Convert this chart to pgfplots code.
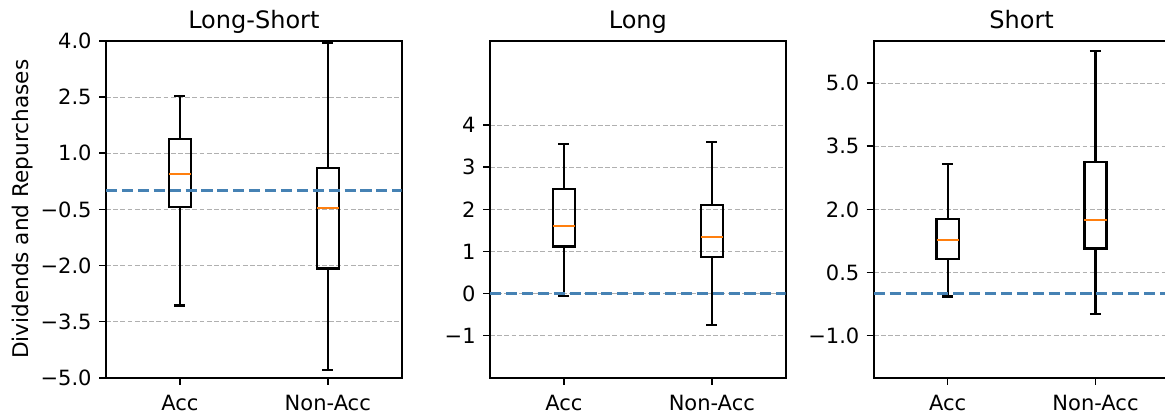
\documentclass[border=0pt]{standalone}
\usepackage{fontspec}
\setmainfont{DejaVu Sans}
\usepackage{pgfplots}
\pgfplotsset{compat=1.18}
\usepgfplotslibrary{statistics}

\definecolor{mplorange}{RGB}{255,127,14}
\definecolor{zeroblue}{RGB}{70,130,180}
\definecolor{gridgray}{RGB}{176,176,176}

\pgfplotsset{
  panel/.style={
    scale only axis, width=147.85pt, height=168.35pt,
    anchor=south west,
    xmin=0.5, xmax=2.5, xtick={1,2}, xticklabels={Acc,Non-Acc},
    tick pos=left, tick align=outside, major tick length=3.5pt,
    tick style={black, line width=0.8pt},
    axis line style={line width=0.8pt},
    ymajorgrids,
    major grid style={gridgray, line width=0.6pt, dash pattern=on 2.4pt off 1.2pt},
    tick label style={font=\fontsize{10.5}{12}\selectfont},
    xticklabel style={anchor=north, inner sep=0pt, yshift=-5.15pt},
    yticklabel style={anchor=east, inner sep=0pt, xshift=-3.5pt},
    every axis title/.style={at={(0.5,1)}, anchor=base, yshift=6.35pt,
      font=\fontsize{12}{14}\selectfont},
    boxplot/draw direction=y,
    boxplot/every median/.style={draw=mplorange},
    boxplot/box extend=0.15,
    boxplot/whisker extend=0.075,
  },
  bx/.style={black, solid, line width=1.1pt},
  zero/.style={zeroblue, line width=1.5pt, dash pattern=on 5.55pt off 2.4pt},
}

\begin{document}
\begin{tikzpicture}
\useasboundingbox (0,0) rectangle (582.5pt,-207pt);

% Long-Short
\begin{axis}[panel, at={(53pt,-188.85pt)}, title={Long-Short},
    ymin=-5, ymax=4,
    ytick={-5,-3.5,-2,-0.5,1,2.5,4},
    yticklabels={−5.0,−3.5,−2.0,−0.5,1.0,2.5,4.0},
    ylabel={Dividends and Repurchases},
    ylabel style={at={(axis description cs:-0.281,0.5)}, anchor=center,
      font=\fontsize{10.8}{12}\selectfont}]
\addplot[bx, boxplot prepared={draw position=1, lower whisker=-3.07,
    lower quartile=-0.43, median=0.45, upper quartile=1.38, upper whisker=2.53}]
    coordinates {};
\addplot[bx, boxplot prepared={draw position=2, lower whisker=-4.80,
    lower quartile=-2.08, median=-0.46, upper quartile=0.60, upper whisker=3.95}]
    coordinates {};
\addplot[zero] coordinates {(0.5,0) (2.5,0)};
\end{axis}

% Long
\begin{axis}[panel, at={(245pt,-188.85pt)}, title={Long},
    ymin=-2, ymax=6,
    ytick={-1,0,1,2,3,4},
    yticklabels={−1,0,1,2,3,4}]
\addplot[bx, boxplot prepared={draw position=1, lower whisker=-0.06,
    lower quartile=1.12, median=1.61, upper quartile=2.49, upper whisker=3.55}]
    coordinates {};
\addplot[bx, boxplot prepared={draw position=2, lower whisker=-0.74,
    lower quartile=0.87, median=1.35, upper quartile=2.11, upper whisker=3.60}]
    coordinates {};
\addplot[zero] coordinates {(0.5,0) (2.5,0)};
\end{axis}

% Short
\begin{axis}[panel, at={(436.85pt,-188.85pt)}, title={Short},
    ymin=-2, ymax=6,
    ytick={-1,0.5,2,3.5,5},
    yticklabels={−1.0,0.5,2.0,3.5,5.0}]
\addplot[bx, boxplot prepared={draw position=1, lower whisker=-0.07,
    lower quartile=0.82, median=1.27, upper quartile=1.77, upper whisker=3.07}]
    coordinates {};
\addplot[bx, boxplot prepared={draw position=2, lower whisker=-0.49,
    lower quartile=1.07, median=1.74, upper quartile=3.13, upper whisker=5.76}]
    coordinates {};
\addplot[zero] coordinates {(0.5,0) (2.5,0)};
\end{axis}
\end{tikzpicture}
\end{document}
